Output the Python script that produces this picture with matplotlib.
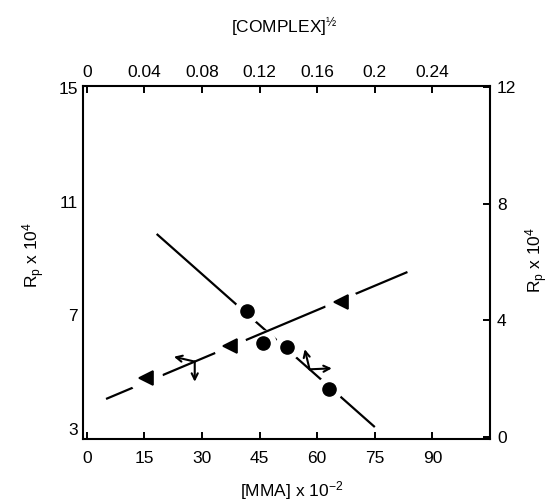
import matplotlib
matplotlib.use('Agg')
import matplotlib.pyplot as plt
import numpy as np

plt.rcParams['font.family'] = ['Liberation Sans', 'DejaVu Sans']
plt.rcParams['mathtext.default'] = 'regular'

# ---- data ----
mma = [15.4, 37.2, 66.1]                 # [MMA] x 10^-2  (bottom axis)
rp_mma = [4.80, 5.92, 7.47]              # Rp x 10^4      (left axis)
mma_fit_x = [5.0, 83.5]
mma_fit_y = [4.06, 8.53]

complex_half = [0.111, 0.122, 0.139, 0.168]   # [COMPLEX]^1/2 (top axis)
rp_complex = [4.31, 3.21, 3.08, 1.64]         # Rp x 10^4     (right axis)
cx_fit_x = [0.0485, 0.200]
cx_fit_y = [6.97, 0.34]

bottom_ticks = [0, 15, 30, 45, 60, 75, 90]
bottom_labels = ['0', '15', '30', '45', '60', '75', '90']
top_ticks = [0, 0.04, 0.08, 0.12, 0.16, 0.20, 0.24]
top_labels = ['0', '0.04', '0.08', '0.12', '0.16', '0.2', '0.24']
left_ticks = [3, 7, 11, 15]
right_ticks = [0, 4, 8, 12]

FS = 12.5
fig = plt.figure(figsize=(5.6, 5.04), dpi=100)
pos = [83 / 560, 1 - 439 / 504, (490 - 83) / 560, (439 - 86) / 504]

# top/right axes (complex series) drawn first, underneath
axc = fig.add_axes(pos, frameon=False)
axc.set_zorder(1)
# bottom/left axes (MMA series) on top, transparent
ax = fig.add_axes(pos)
ax.set_zorder(2)
ax.set_facecolor('none')

xlim = (-1.0, 105.0)
ax.set_xlim(*xlim)
ax.set_ylim(2.65, 15.08)
axc.set_xlim(xlim[0] * 0.04 / 15, xlim[1] * 0.04 / 15)
axc.set_ylim(-0.07, 12.05)

# --- complex series: line, white halos, circles
axc.plot(cx_fit_x, cx_fit_y, color='black', lw=1.6, solid_capstyle='butt', zorder=1)
axc.plot(complex_half, rp_complex, linestyle='none', marker='o', ms=19,
         mfc='white', mec='none', zorder=2)
axc.plot(complex_half, rp_complex, linestyle='none', marker='o', ms=9.5,
         mfc='black', mec='black', zorder=3)

# --- MMA series
ax.plot(mma_fit_x, mma_fit_y, color='black', lw=1.6, solid_capstyle='butt', zorder=1)
ax.plot(mma, rp_mma, linestyle='none', marker='o', ms=24,
        mfc='white', mec='none', zorder=2)
ax.plot(mma, rp_mma, linestyle='none', marker='<', ms=10.5,
        mfc='black', mec='black', mew=1.2, zorder=3)

# --- axis-indicator arrows
arr = dict(arrowstyle='<-', lw=1.5, color='black', shrinkA=0, shrinkB=0,
           mutation_scale=11)
xa = 28.1
ya = float(np.interp(xa, mma_fit_x, mma_fit_y))
ax.annotate('', xy=(xa, ya), xytext=(-15, 3.5), textcoords='offset points',
            arrowprops=arr, zorder=4)
ax.annotate('', xy=(xa, ya), xytext=(0, -14.5), textcoords='offset points',
            arrowprops=arr, zorder=4)
xc = 0.1547
yc = float(np.interp(xc, cx_fit_x, cx_fit_y))
axc.annotate('', xy=(xc, yc), xytext=(-3.5, 14.5), textcoords='offset points',
             arrowprops=arr, zorder=4)
axc.annotate('', xy=(xc, yc), xytext=(16, 0.7), textcoords='offset points',
             arrowprops=arr, zorder=4)

# --- ticks
ax.set_xticks(bottom_ticks)
ax.set_xticklabels(bottom_labels)
ax.set_yticks(left_ticks)
ax.tick_params(axis='x', direction='in', length=5, width=1.4, pad=8.5,
               labelsize=FS, top=False)
ax.tick_params(axis='y', direction='in', length=0, pad=3.5, labelsize=FS,
               right=False)

axc.xaxis.tick_top()
axc.yaxis.tick_right()
axc.set_xticks(top_ticks)
axc.set_xticklabels(top_labels)
axc.set_yticks(right_ticks)
axc.tick_params(axis='x', direction='in', length=5, width=1.4, pad=4.5,
                labelsize=FS)
axc.tick_params(axis='y', direction='in', length=5, width=1.4, pad=5,
                labelsize=FS)

for s in ax.spines.values():
    s.set_linewidth(1.5)

# --- axis titles
fig.text(292 / 560, 1 - 491 / 504, '[MMA] x 10$^{-2}$', ha='center', va='center',
         fontsize=FS)
fig.text(284 / 560, 1 - 27 / 504, '[COMPLEX]$^{½}$', ha='center', va='center',
         fontsize=FS)
fig.text(34 / 560, 1 - 255 / 504, 'R$_p$ x 10$^4$', ha='center', va='center',
         rotation=90, fontsize=FS)
fig.text(537 / 560, 1 - 260 / 504, 'R$_p$ x 10$^4$', ha='center', va='center',
         rotation=90, fontsize=FS)

fig.savefig('out.png', dpi=100, facecolor='white')
